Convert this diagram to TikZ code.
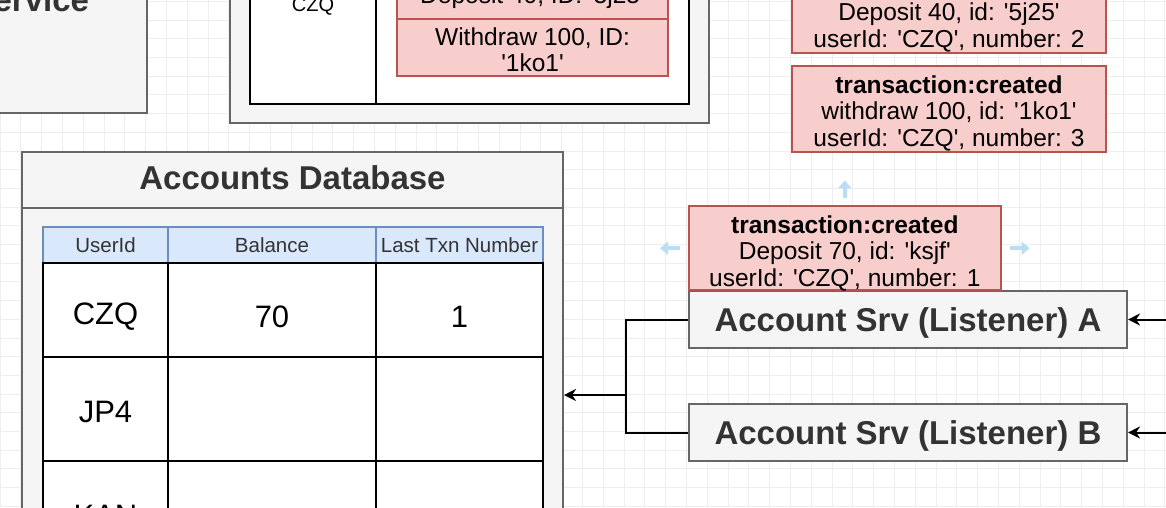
\documentclass[tikz,border=0pt]{standalone}
\usepackage{fontspec}
\newfontfamily\arial{Liberation Sans}
\usetikzlibrary{positioning, arrows.meta}
\definecolor{boxfill}{HTML}{F5F5F5}
\definecolor{boxline}{HTML}{666666}
\definecolor{evfill}{HTML}{F8CECC}
\definecolor{evline}{HTML}{B85450}
\definecolor{headfill}{HTML}{DAE8FC}
\definecolor{headline}{HTML}{6C8EBF}
\definecolor{titletext}{HTML}{333333}
\definecolor{gridline}{HTML}{EEEEEE}
\definecolor{handle}{HTML}{B9DDF5}

\begin{document}
\begin{tikzpicture}[x=1pt,y=-1pt,line width=2pt,
    box node/.style={draw=boxline,fill=boxfill,inner sep=0pt,line width=2pt},
    title node/.style={inner sep=0pt,text=titletext,font=\arial\bfseries\fontsize{33}{38}\selectfont},
    srv node/.style={box node,text=titletext,font=\arial\bfseries\fontsize{33}{38}\selectfont,minimum width=438pt,minimum height=57pt,text depth=0pt},
    event node/.style={draw=evline,fill=evfill,line width=1.6pt,inner sep=0pt},
    event text/.style={inner sep=0pt,align=center,font=\arial\fontsize{24.5}{26.5}\selectfont},
    cell node/.style={draw=black,fill=white,inner sep=0pt,line width=2pt},
    cell text/.style={inner sep=0pt,font=\arial\fontsize{31}{36}\selectfont},
    head node/.style={draw=headline,fill=headfill,inner sep=0pt,line width=2pt,minimum height=36pt,text=titletext,text depth=0pt,font=\arial\fontsize{20.5}{24}\selectfont},
    link/.style={line width=2pt},
    arrow/.style={link,-{Stealth[length=12pt,width=12pt]}},
    handle arrow/.style={handle,line width=4pt,-{Triangle[length=8pt,width=13pt]}}]

  \useasboundingbox (0,0) rectangle (1166,507);
  \clip (0,0) rectangle (1166,507);
  \fill[white] (0,0) rectangle (1166,507);
  \foreach \i in {0,...,56}
    \draw[gridline,line width=0.8pt] (\i*20.8,0) -- (\i*20.8,507);
  \foreach \j in {0,...,27}
    \draw[gridline,line width=0.8pt] (0,1.3+\j*18.7) -- (1166,1.3+\j*18.7);

  % service box, top left
  \node[box node,minimum width=207pt,minimum height=173pt] (txsrv) at (43.5,26.5) {};
  \node[title node,anchor=base east] (txtitle) at (90,11) {Service};

  % transaction table, top middle
  \node[box node,minimum width=479pt,minimum height=183pt] (txdb) at (469.5,31.5) {};
  \node[cell node,minimum width=126pt,minimum height=164pt] (txuser) at (313,22) {};
  \node[cell node,minimum width=313pt,minimum height=164pt] (txlist) at (532.5,22) {};
  \node[inner sep=0pt,anchor=base,font=\arial\fontsize{20}{24}\selectfont] (txczq) at (313,11) {CZQ};
  \node[event node,minimum width=271pt,minimum height=44pt] (txdep) at (532.5,-3) {};
  \node[event text,anchor=base] at (txdep.center |- 0,3) {Deposit 40, ID: '5j25'};
  \node[event node,minimum width=271pt,minimum height=57pt] (txwd) at (532.5,47.5) {};
  \node[event text,font=\arial\fontsize{24.5}{26}\selectfont] at ([yshift=-2pt]txwd.center) {Withdraw 100, ID:\\'1ko1'};

  % events, right
  \node[event node,minimum width=314pt,minimum height=86pt] (evTwo) at (949,10) {};
  \node[event text] at ([yshift=-4pt]evTwo.center)
    {\textbf{transaction:created}\\Deposit 40, id: '5j25'\\userId: 'CZQ', number: 2};
  \node[event node,minimum width=314pt,minimum height=86pt] (evThree) at (949,109) {};
  \node[event text] at ([yshift=-4pt]evThree.center)
    {\textbf{transaction:created}\\withdraw 100, id: '1ko1'\\userId: 'CZQ', number: 3};

  % listeners
  \node[srv node] (srvA) at (908,319.5) {Account Srv (Listener) A};
  \node[srv node] (srvB) [below=54pt of srvA] {Account Srv (Listener) B};
  \node[event node,minimum width=312pt,minimum height=84pt,anchor=south west] (evOne) at ([yshift=-1pt]srvA.north west) {};
  \node[event text] at ([yshift=-5pt]evOne.center)
    {\textbf{transaction:created}\\Deposit 70, id: 'ksjf'\\userId: 'CZQ', number: 1};
  \draw[handle arrow] (evOne.north) ++(0,-7) -- ++(0,-18);
  \draw[handle arrow] (evOne.west) ++(-8,0) -- ++(-20,0);
  \draw[handle arrow] (evOne.east) ++(8,0) -- ++(20,0);

  % accounts database
  \node[box node,minimum width=541pt,minimum height=418pt] (accdb) at (292.5,361) {};
  \node[title node] (acctitle) at (292.5,178) {Accounts Database};
  \draw[boxline] (accdb.west |- 0,208) -- (accdb.east |- 0,208);

  \node[head node,minimum width=125pt] (hUser) at (105.5,245) {UserId};
  \node[head node,minimum width=208pt] (hBal) at (272,245) {Balance};
  \node[head node,minimum width=167pt] (hTxn) at (459.5,245) {Last Txn Number};

  \node[cell node,minimum width=125pt,minimum height=94pt] (czq) at (105.5,310) {};
  \node[cell node,minimum width=208pt,minimum height=94pt] (czqBal) at (272,310) {};
  \node[cell node,minimum width=167pt,minimum height=94pt] (czqTxn) at (459.5,310) {};
  \node[cell node,minimum width=125pt,minimum height=104pt] (jp) at (105.5,409) {};
  \node[cell node,minimum width=208pt,minimum height=104pt] (jpBal) at (272,409) {};
  \node[cell node,minimum width=167pt,minimum height=104pt] (jpTxn) at (459.5,409) {};
  \node[cell node,minimum width=125pt,minimum height=104pt] (kan) at (105.5,513) {};
  \node[cell node,minimum width=208pt,minimum height=104pt] (kanBal) at (272,513) {};
  \node[cell node,minimum width=167pt,minimum height=104pt] (kanTxn) at (459.5,513) {};
  \node[cell text] at ([yshift=-7pt]czq.center) {CZQ};
  \node[cell text] at ([yshift=-7pt]czqBal.center) {70};
  \node[cell text] at ([yshift=-7pt]czqTxn.center) {1};
  \node[cell text] at ([yshift=-3pt]jp.center) {JP4};
  \node[cell text] at ([yshift=-3pt]kan.center) {KAN};

  % connectors
  \coordinate (inA) at (1166,319.5);
  \coordinate (inB) at (1166,432.5);
  \coordinate (bus) at (626,395);
  \draw[arrow] (inA) -- (srvA.east);
  \draw[arrow] (inB) -- (srvB.east);
  \draw[link] (srvA.west) -| (bus) |- (srvB.west);
  \draw[arrow] (bus) -- (bus -| accdb.east);

\end{tikzpicture}
\end{document}
